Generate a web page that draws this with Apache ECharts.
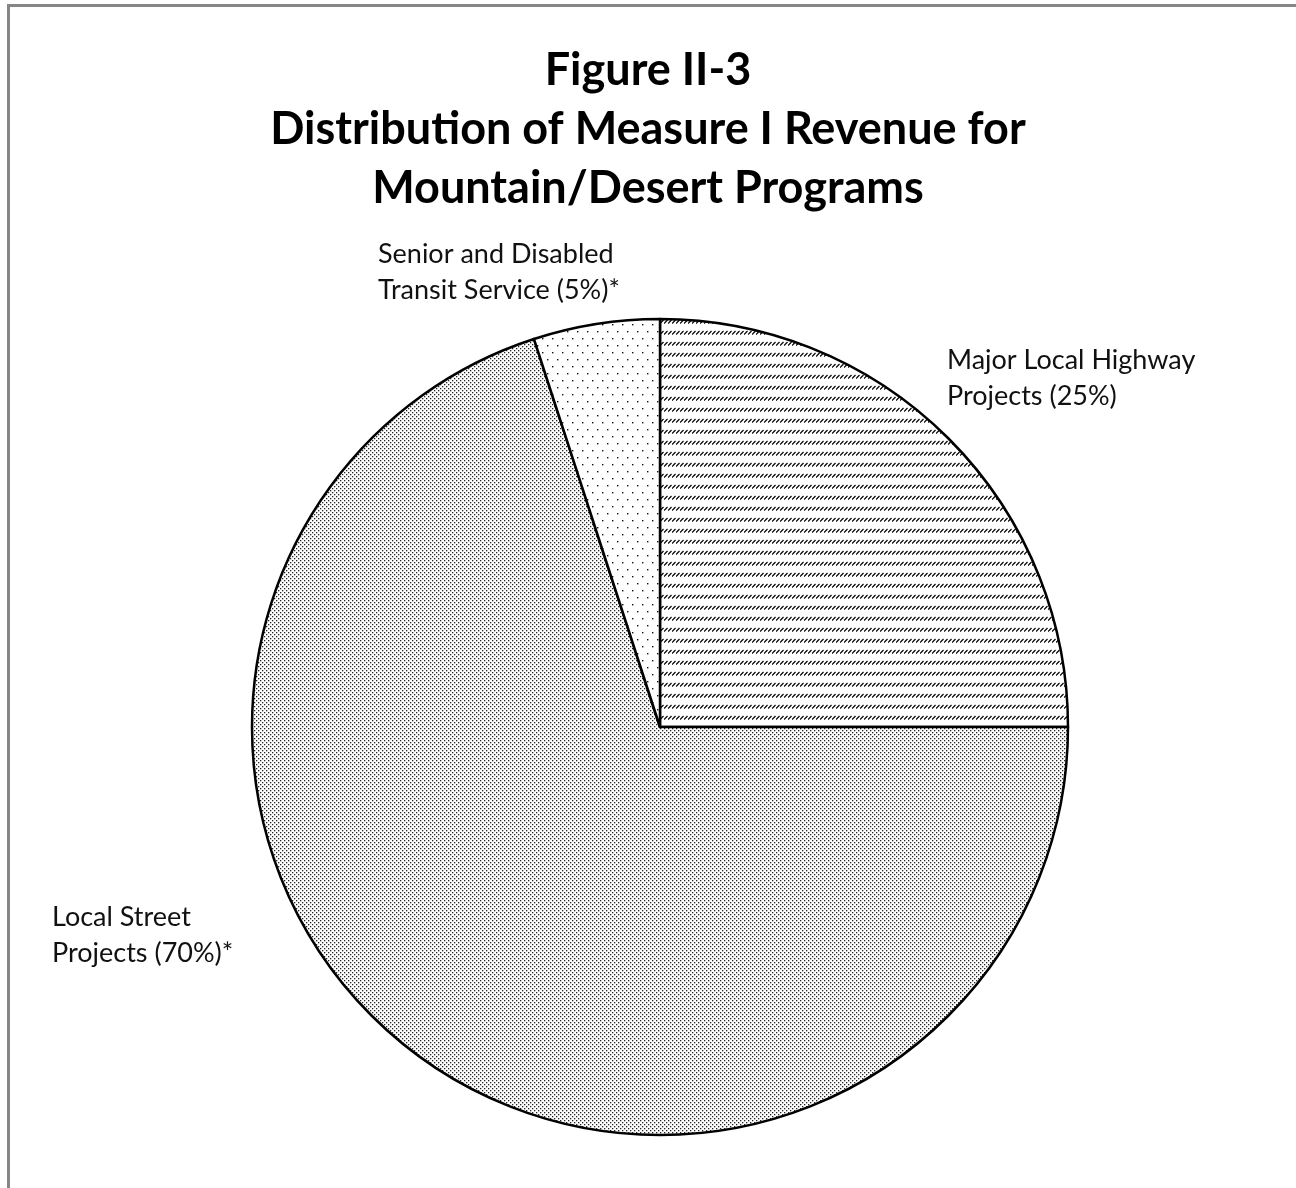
<!DOCTYPE html>
<html>
<head>
<meta charset="utf-8">
<script src="https://cdn.jsdelivr.net/npm/echarts@6/dist/echarts.min.js"></script>
<style>
html,body{margin:0;padding:0;background:#fff;}
#chart{width:1296px;height:1188px;}
</style>
</head>
<body>
<div id="chart"></div>
<script>
// ---- data ----
const categories = ['Major Local Highway Projects', 'Local Street Projects', 'Senior and Disabled Transit Service'];
const values = [25, 70, 5];
const labelTexts = ['Major Local Highway\nProjects (25%)', 'Local Street\nProjects (70%)*', 'Senior and Disabled\nTransit Service (5%)*'];
const titleText = 'Figure II-3\nDistribution of Measure I Revenue for\nMountain/Desert Programs';

// ---- patterns ----
function makeTile(w, h, draw) {
  const c = document.createElement('canvas');
  c.width = w; c.height = h;
  const ctx = c.getContext('2d');
  ctx.fillStyle = '#fff';
  ctx.fillRect(0, 0, w, h);
  draw(ctx);
  return c;
}
const hatchTile = makeTile(4, 11, ctx => {
  ctx.strokeStyle = '#000';
  ctx.lineWidth = 1.2;
  ctx.beginPath();
  ctx.moveTo(0, 4.5);
  ctx.lineTo(3.5, 1);
  ctx.stroke();
});
const denseTile = makeTile(8, 8, ctx => {
  ctx.fillStyle = '#222';
  [[0,0],[4,0],[2,2],[6,2],[0,4],[4,4],[2,6],[6,6]].forEach(p => ctx.fillRect(p[0], p[1], 1.3, 1.3));
});
const sparseTile = makeTile(10, 14, ctx => {
  ctx.fillStyle = '#111';
  ctx.fillRect(2, 2, 1.4, 1.4);
  ctx.fillRect(7, 9, 1.4, 1.4);
});
const fills = [hatchTile, denseTile, sparseTile];
const labelPos = [[947, 342], [52, 899], [378, 236]];

const chart = echarts.init(document.getElementById('chart'), null, {renderer: 'canvas'});
chart.setOption({
  animation: false,
  backgroundColor: '#fff',
  title: {
    text: titleText,
    left: 'center',
    top: 36,
    textStyle: {
      fontFamily: 'Lato',
      fontWeight: 'bold',
      fontSize: 45,
      lineHeight: 59,
      color: '#000'
    }
  },
  graphic: [{
    type: 'polyline',
    shape: {points: [[8.5, 1188], [8.5, 5.5], [1296, 5.5]]},
    style: {stroke: '#868686', lineWidth: 3, fill: null}
  }],
  series: [{
    type: 'pie',
    center: [660, 727],
    radius: 408,
    startAngle: 90,
    clockwise: true,
    silent: true,
    data: categories.map((n, i) => ({
      name: n,
      value: values[i],
      itemStyle: {color: {image: fills[i], repeat: 'repeat'}}
    })),
    itemStyle: {borderColor: '#000', borderWidth: 2.5},
    label: {
      show: true,
      position: 'outside',
      formatter: p => labelTexts[p.dataIndex],
      fontFamily: 'Lato',
      fontSize: 27,
      lineHeight: 36,
      color: '#111'
    },
    labelLine: {show: false},
    labelLayout: p => ({
      x: labelPos[p.dataIndex][0],
      y: labelPos[p.dataIndex][1],
      align: 'left',
      verticalAlign: 'top',
      hideOverlap: false
    })
  }]
});
</script>
</body>
</html>
